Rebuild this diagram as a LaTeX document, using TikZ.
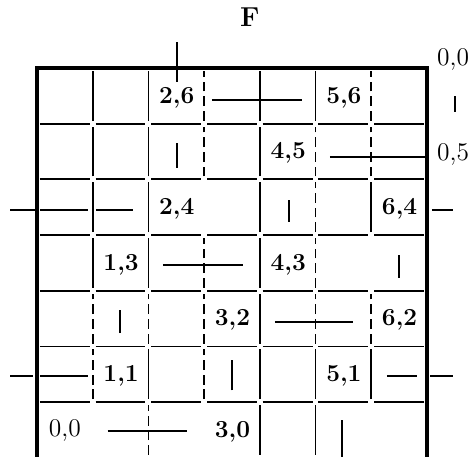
\documentclass[tikz,border=0pt]{standalone}
\usepackage{tikz}

\tikzset{
  rule/.style={line width=0.9pt, shorten <=1.5pt, shorten >=1.5pt},
  brokenrule/.style={rule, dash pattern=on 5pt off 2.5pt},
  frame/.style={line width=2.2pt, line join=miter},
  stroke/.style={line width=1pt},
  cell/.style={font=\fontsize{12.5}{14}\selectfont\bfseries, inner sep=0pt},
  plain/.style={font=\fontsize{13}{15}\selectfont, inner sep=0pt}
}

\begin{document}
\begin{tikzpicture}
        \useasboundingbox (-0.664,0.033) rectangle (7.810,8.22);
        % cross rules, all unbroken
        \foreach \y in {1,...,6} {
            \foreach \x in {0,...,6} {
                \draw[rule] (\x,\y) -- (\x+1,\y);
            }
        }
        % uprights: x/row
        \foreach \x/\r in {1/3,1/4,1/5,1/6,2/1,2/3,2/4,2/5,2/6,4/0,4/1,4/2,4/3,4/4,4/5,4/6,5/0,5/1,5/6,6/1,6/4} {
            \draw[rule] (\x,\r) -- (\x,\r+1);
        }
        \foreach \x/\r in {1/1,1/2,2/0,2/2,3/1,3/2,3/3,3/5,3/6,5/2,5/3,5/4,5/5,6/2,6/5,6/6} {
            \draw[brokenrule] (\x,\r) -- (\x,\r+1);
        }
        \draw[frame] (0,0) -- (0,7) -- (7,7) -- (7,0);

        \node[font=\fontsize{14}{16}\selectfont\bfseries] (title) at (3.82,7.92) {F};

        \foreach \i/\j in {2/6,5/6,4/5,2/4,6/4,1/3,4/3,3/2,6/2,1/1,5/1,3/0} {
            \node[cell] (c\i\j) at (\i+0.51,\j+0.47) {\i,\j};
        }
        \node[plain] (c00) at (0.5,0.49) {0,0};
        \node[plain] (corner) at (7.47,7.15) {0,0};
        \node[plain] (side) at (7.47,5.44) {0,5};

        % strokes in the cells
        \foreach \x/\a/\b in {2.51/6.75/7.47,7.50/6.21/6.49,2.51/5.21/5.66,4.52/4.24/4.63,6.50/3.23/3.64,1.49/2.24/2.65,3.50/1.21/1.75,5.48/0.0/0.68} {
            \draw[stroke] (\x,\a) -- (\x,\b);
        }
        \foreach \y/\a/\b in {6.43/3.14/4.76,5.40/5.26/6.97,4.45/-0.48/-0.04,4.45/0.05/0.92,4.45/1.06/1.72,4.45/7.09/7.47,3.46/2.26/3.70,2.44/4.27/5.67,1.47/-0.48/-0.07,1.47/0.05/0.92,1.47/6.28/6.82,1.47/7.06/7.47,0.49/1.27/2.69} {
            \draw[stroke] (\a,\y) -- (\b,\y);
        }
\end{tikzpicture}
\end{document}
